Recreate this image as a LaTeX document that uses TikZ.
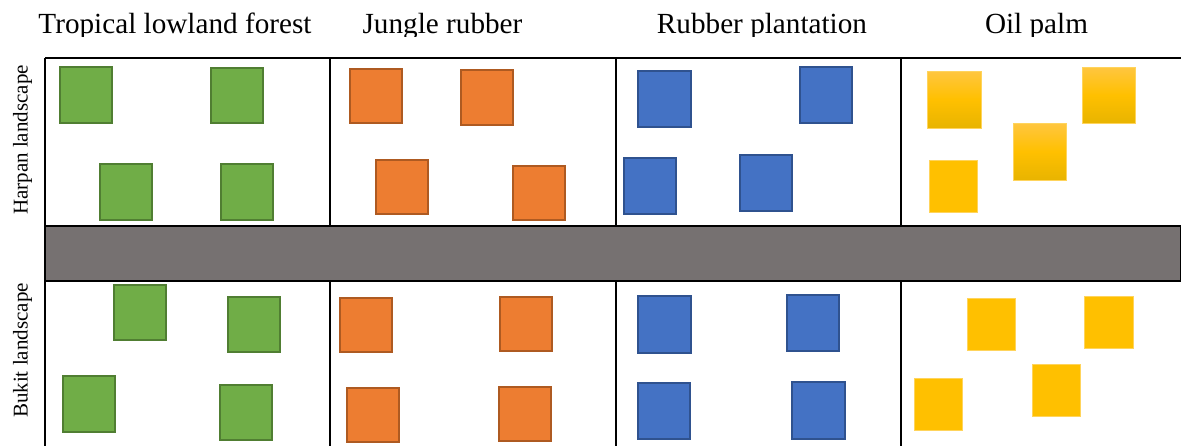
\documentclass[tikz,border=0pt]{standalone}
\usepackage{fontspec}
\setmainfont{Liberation Serif}
\definecolor{gfill}{HTML}{70AD47}\definecolor{gline}{HTML}{507E32}
\definecolor{ofill}{HTML}{ED7D31}\definecolor{oline}{HTML}{AE5A21}
\definecolor{bfill}{HTML}{4472C4}\definecolor{bline}{HTML}{2F528F}
\definecolor{yfill}{HTML}{FFC000}\definecolor{ytop}{HTML}{FFC640}
\definecolor{ybot}{HTML}{E8B400}\definecolor{yedge}{HTML}{FFD45C}
\definecolor{band}{HTML}{767171}
\tikzset{
  grid/.style={line width=1.1pt, black},
  title/.style={anchor=base, inner sep=0pt, font=\fontsize{14.6}{17}\selectfont},
  rowlabel/.style={anchor=base, rotate=90, inner sep=0pt, font=\fontsize{10.5}{12}\selectfont},
  forest/.style={fill=gfill, draw=gline, line width=1pt},
  jungle/.style={fill=ofill, draw=oline, line width=1pt},
  rubber/.style={fill=bfill, draw=bline, line width=1pt},
  palm/.style={fill=yfill, draw=yedge, line width=0.3pt},
  palmshade/.style={top color=ytop, bottom color=ybot, middle color=yfill, draw=yedge, line width=0.3pt},
}
\begin{document}
\begin{tikzpicture}[x=0.5pt, y=-0.5pt]
\useasboundingbox (0,0) rectangle (1181,446);
\clip (0,0) rectangle (1181,446);

% column headings, cut off just below the baseline
\begin{scope}
  \clip (0,0) rectangle (1181,36);
  \node[title] (h1) at (175,33.5) {Tropical lowland forest};
  \node[title] (h2) at (442.5,33.5) {Jungle rubber};
  \node[title] (h3) at (762,33.5) {Rubber plantation};
  \node[title] (h4) at (1036.5,33.5) {Oil palm};
\end{scope}

% row labels
\node[rowlabel] (r1) at (27.5,140) {Harpan landscape};
\node[rowlabel] (r2) at (27.5,350.5) {Bukit landscape};

% table frame and separating band
\draw[grid, fill=band] (45,226) rectangle (1181,281);
\draw[grid] (45,58) -- (1181,58);
\draw[grid] (45,58) -- (45,446);
\foreach \xx in {330,616,901} {
  \draw[grid] (\xx,58) -- (\xx,226);
  \draw[grid] (\xx,281) -- (\xx,446);
}

% tropical lowland forest
\draw[forest] (60,67) rectangle (112,123);
\draw[forest] (211,68) rectangle (263,123);
\draw[forest] (100,164) rectangle (152,220);
\draw[forest] (221,164) rectangle (273,220);
\draw[forest] (114,285) rectangle (166,340);
\draw[forest] (228,297) rectangle (280,352);
\draw[forest] (63,376) rectangle (115,432);
\draw[forest] (220,385) rectangle (272,440);

% jungle rubber
\draw[jungle] (350,69) rectangle (402,123);
\draw[jungle] (461,70) rectangle (513,125);
\draw[jungle] (376,160) rectangle (428,214);
\draw[jungle] (513,166) rectangle (565,220);
\draw[jungle] (340,298) rectangle (392,352);
\draw[jungle] (500,297) rectangle (552,351);
\draw[jungle] (347,388) rectangle (399,442);
\draw[jungle] (499,387) rectangle (551,441);

% rubber plantation
\draw[rubber] (638,71) rectangle (691,127);
\draw[rubber] (800,67) rectangle (852,123);
\draw[rubber] (624,158) rectangle (676,214);
\draw[rubber] (740,155) rectangle (792,211);
\draw[rubber] (638,296) rectangle (691,353);
\draw[rubber] (787,295) rectangle (839,351);
\draw[rubber] (638,383) rectangle (690,439);
\draw[rubber] (792,382) rectangle (845,439);

% oil palm
\draw[palmshade] (927,71) rectangle (981,128);
\draw[palmshade] (1082,67) rectangle (1135,123);
\draw[palmshade] (1013,123) rectangle (1066,180);
\draw[palm] (929,160) rectangle (977,212);
\draw[palm] (967,298) rectangle (1015,350);
\draw[palm] (1084,296) rectangle (1133,348);
\draw[palm] (914,378) rectangle (962,430);
\draw[palm] (1032,364) rectangle (1080,416);
\end{tikzpicture}
\end{document}
